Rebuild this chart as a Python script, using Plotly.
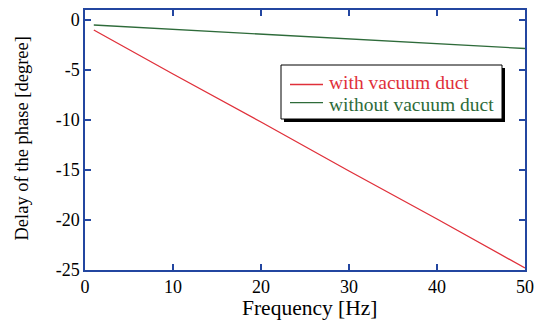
import plotly.graph_objects as go

freq = [1, 10, 20, 30, 40, 50]
with_duct = [-1.0, -5.4, -10.2, -15.1, -19.9, -24.8]
without_duct = [-0.5, -0.93, -1.41, -1.89, -2.37, -2.85]
names = ["with vacuum duct", "without vacuum duct"]
x_ticks = [0, 10, 20, 30, 40, 50]
y_ticks = [0, -5, -10, -15, -20, -25]
y_ticktext = ["0", "-5", "-10", "-15", "-20", "-25"]

RED = "#e0303a"
GREEN = "#2e6b3a"
AXIS = "#2346a0"
FONT = "Liberation Serif"

W, H = 537, 323
ML, MR, MT, MB = 85, 12, 10, 53
PW, PH = W - ML - MR, H - MT - MB

def px(x):
    return (x - ML) / PW

def py(y):
    return (H - MB - y) / PH

fig = go.Figure()
fig.add_trace(go.Scatter(x=freq, y=with_duct, mode="lines", name=names[0],
                         line=dict(color=RED, width=1.3), showlegend=False))
fig.add_trace(go.Scatter(x=freq, y=without_duct, mode="lines", name=names[1],
                         line=dict(color=GREEN, width=1.3), showlegend=False))

shapes = [
    dict(type="rect", xref="paper", yref="paper", x0=px(284), x1=px(505), y0=py(122), y1=py(68),
         fillcolor="black", line=dict(width=0), layer="above"),
    dict(type="rect", xref="paper", yref="paper", x0=px(281), x1=px(502), y0=py(119), y1=py(65),
         fillcolor="white", line=dict(color="black", width=1), layer="above"),
    dict(type="line", xref="paper", yref="paper", x0=px(290), x1=px(323), y0=py(84.5), y1=py(84.5),
         line=dict(color=RED, width=1.3), layer="above"),
    dict(type="line", xref="paper", yref="paper", x0=px(290), x1=px(323), y0=py(102.7), y1=py(102.7),
         line=dict(color=GREEN, width=1.3), layer="above"),
]
annotations = [
    dict(xref="paper", yref="paper", x=px(327), y=py(82.8), text=names[0], showarrow=False,
         xanchor="left", yanchor="middle",
         font=dict(family=FONT, size=19.5, color=RED)),
    dict(xref="paper", yref="paper", x=px(327), y=py(104.8), text=names[1], showarrow=False,
         xanchor="left", yanchor="middle",
         font=dict(family=FONT, size=19.5, color=GREEN)),
    dict(xref="paper", yref="paper", x=px(310), y=py(308), text="Frequency [Hz]", showarrow=False,
         xanchor="center", yanchor="middle",
         font=dict(family=FONT, size=21.5, color="black")),
    dict(xref="paper", yref="paper", x=px(21), y=py(138.5), text="Delay of the phase [degree]",
         showarrow=False, textangle=-90, xanchor="center", yanchor="middle",
         font=dict(family=FONT, size=18.5, color="black")),
]

axis_common = dict(showline=True, linecolor=AXIS, linewidth=1.5, mirror="ticks",
                   ticks="inside", ticklen=6, tickcolor=AXIS, tickwidth=1.5,
                   showgrid=False, zeroline=False, automargin=False,
                   tickfont=dict(family=FONT, size=18, color="black"))

fig.update_layout(
    width=W, height=H,
    margin=dict(l=ML, r=MR, t=MT, b=MB),
    paper_bgcolor="white", plot_bgcolor="white",
    shapes=shapes, annotations=annotations,
    xaxis=dict(range=[0, 50], tickvals=x_ticks, **axis_common),
    yaxis=dict(range=[-25, 1], tickvals=y_ticks, ticktext=y_ticktext, **axis_common),
)

fig.write_html("out.html")
